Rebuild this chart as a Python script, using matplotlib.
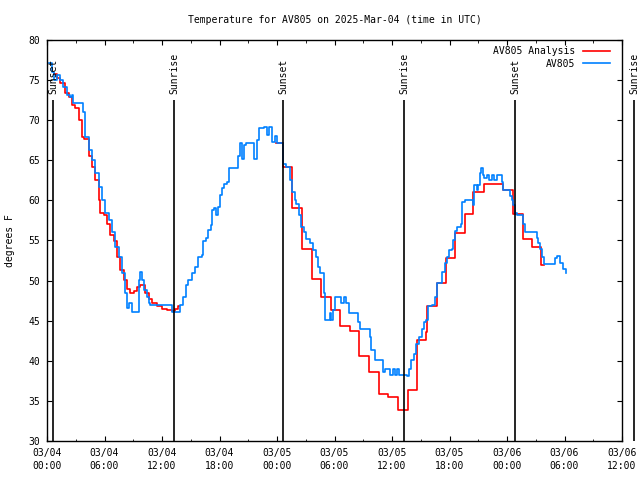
import numpy as np
import matplotlib
matplotlib.use('Agg')
import matplotlib.pyplot as plt
import matplotlib.dates as mdates

plt.rcParams['font.family'] = ['DejaVu Sans Mono']
plt.rcParams['font.size'] = 7

start = np.datetime64('2025-03-04T00:00')

# AV805 observations: hours after start, degrees F
obs_hours = [0.18, 0.5, 0.7, 1.04, 1.35, 1.7, 2.05, 2.45, 2.6, 2.75, 3.44, 3.76, 4.0, 4.35, 4.70,
             5.04, 5.39, 5.74, 6.08, 6.44, 6.78, 7.13, 7.48, 7.83, 8.17, 8.35, 8.53, 8.87, 9.39,
             9.57, 9.67, 9.91, 10.15, 10.43, 10.67, 10.78, 12.87, 13.04, 13.39, 13.70, 13.88,
             14.23, 14.47, 14.75, 15.10, 15.44, 15.79, 16.14, 16.31, 16.56, 16.84, 17.08, 17.25,
             17.46, 17.63, 17.88, 18.05, 18.23, 18.47, 18.75, 19.03, 19.62, 19.90, 20.14, 20.32,
             20.56, 20.77, 21.36, 21.63, 21.94, 22.12, 22.64, 22.92, 23.17, 23.45, 23.79, 23.97,
             24.03, 24.49, 24.66, 24.97, 25.32, 25.57, 25.85, 26.02, 26.27, 26.54, 26.82, 27.06,
             27.41, 27.76, 28.04, 28.28, 28.46, 28.73, 28.87, 28.98, 29.25, 29.50, 29.67, 29.84,
             30.02, 30.37, 30.71, 30.99, 31.24, 31.51, 32.11, 32.45, 32.63, 33.32, 33.67, 33.84,
             34.19, 34.71, 35.06, 35.24, 35.58, 35.82, 36.10, 36.35, 36.55, 36.70, 37.60, 37.77,
             38.02, 38.30, 38.50, 38.85, 39.10, 39.34, 39.55, 39.79, 40.14, 40.49, 40.73, 41.19,
             41.53, 41.71, 41.98, 42.24, 42.40, 42.58, 42.76, 43.03, 43.18, 43.35, 43.63, 44.24,
             44.42, 44.56, 44.83, 45.01, 45.18, 45.29, 45.46, 45.63, 45.94, 46.15, 46.40, 46.64,
             46.92, 47.27, 47.45, 47.62, 48.14, 48.31, 48.49, 48.66, 48.83, 49.01, 49.53, 49.70,
             49.88, 50.92, 51.10, 51.27, 51.44, 51.62, 51.86, 52.66, 53.01, 53.25, 53.53, 53.88,
             54.12]
obs_temp = [77.1, 76.0, 75.0, 75.6, 75.0, 74.1, 73.1, 72.9, 73.1, 72.1, 72.1, 71.0, 67.9, 66.3, 65.0,
            63.4, 61.7, 60.0, 58.4, 57.6, 56.1, 54.2, 53.0, 50.9, 48.4, 46.6, 47.2, 46.1, 46.1,
            50.1, 51.1, 50.1, 48.8, 48.0, 47.2, 47.0, 47.0, 46.1, 46.1, 46.1, 47.0,
            48.0, 49.5, 50.1, 50.9, 51.7, 53.0, 53.2, 54.9, 55.3, 56.3, 56.9, 58.8,
            59.0, 58.2, 59.2, 60.7, 61.6, 62.1, 62.3, 64.0, 64.1, 65.5, 67.1, 65.2,
            66.9, 67.1, 67.1, 65.2, 67.5, 69.0, 69.1, 68.2, 69.1, 67.3, 68.0, 67.9,
            67.1, 67.1, 64.6, 64.2, 62.5, 61.1, 60.0, 59.6, 58.2, 56.7, 56.1, 55.2,
            54.7, 53.8, 53.0, 51.7, 51.0, 51.0, 48.4, 45.1, 45.1, 45.9, 45.1, 46.3,
            48.0, 48.0, 47.2, 48.0, 47.2, 46.0, 46.0, 44.9, 44.0, 44.0, 43.0, 41.3,
            40.1, 40.1, 38.6, 39.0, 39.0, 38.2, 39.0, 38.2, 39.0, 38.2, 38.1, 39.0,
            40.1, 40.9, 42.1, 43.0, 44.0, 44.9, 45.1, 46.8, 47.0, 48.0, 49.7, 51.1,
            52.2, 53.0, 53.8, 54.0, 55.1, 56.2, 56.7, 56.7, 57.1, 59.8, 60.0, 60.0,
            59.4, 61.9, 61.3, 61.9, 63.4, 64.1, 63.2, 62.8, 63.2, 62.5, 63.2, 62.5,
            63.2, 63.2, 62.3, 61.3, 61.3, 60.5, 60.0, 59.4, 58.4, 58.2, 58.2, 57.1,
            56.1, 56.1, 55.3, 54.7, 54.0, 53.0, 52.1, 52.1, 52.8, 53.1, 52.2, 51.5,
            51.0]

# AV805 analysis (gap with no analysis in the afternoon of 03/04)
ana_hours = [0.70, 1.04, 1.39, 1.91, 2.26, 2.61, 2.96, 3.30, 3.65, 3.90, 4.35, 4.70, 5.04, 5.39,
             5.56, 5.91, 6.26, 6.61, 6.96, 7.30, 7.65, 8.00, 8.35, 8.63, 9.05, 9.39, 9.74, 10.02,
             10.26, 10.61, 10.96, 11.48, 12.00, 12.52, 13.04, 13.39, 13.70, 13.80,
             23.90, 24.63, 25.57, 26.61, 27.65, 28.63, 29.67, 30.61, 31.58, 32.59, 33.63, 34.61,
             35.58, 36.63, 37.62, 38.65, 39.55, 39.62, 40.66, 41.63, 42.57, 43.62, 43.66, 44.49,
             45.55, 47.55, 48.62, 49.65, 50.65, 51.58, 51.86]
ana_temp = [75.8, 75.2, 74.6, 73.4, 72.9, 71.9, 71.5, 70.0, 67.9, 67.6, 65.5, 64.2, 62.5, 60.0,
            58.4, 58.2, 57.1, 55.7, 54.9, 53.0, 51.3, 50.1, 49.0, 48.5, 48.7, 49.2, 49.5, 49.5,
            48.4, 47.7, 47.2, 46.8, 46.5, 46.3, 46.2, 46.5, 46.8, np.nan,
            67.1, 64.2, 59.0, 54.0, 50.2, 47.9, 46.3, 44.3, 43.7, 40.6, 38.6, 35.8,
            35.5, 33.9, 36.4, 42.6, 43.6, 46.8, 49.7, 52.8, 55.9, 57.1, 58.3, 61.0,
            62.1, 61.3, 58.3, 55.2, 54.2, 52.0, 52.0]

# sunset / sunrise markers
sun_hours = [0.63, 13.25, 24.63, 37.25, 48.83, 61.25]
sun_labels = ['Sunset', 'Sunrise', 'Sunset', 'Sunrise', 'Sunset', 'Sunrise']


def to_time(hours):
    return start + (np.array(hours) * 3600).astype('timedelta64[s]')


fig = plt.figure(figsize=(6.4, 4.8), dpi=100)
ax = fig.add_axes([47 / 640, 1 - 441 / 480, 575 / 640, 401 / 480])

ax.plot(to_time(ana_hours), ana_temp, color='#ff0000', lw=1.2, drawstyle='steps-post',
        label='AV805 Analysis')
ax.plot(to_time(obs_hours), obs_temp, color='#0080ff', lw=1.2, drawstyle='steps-post',
        label='AV805')

for t, lab in zip(to_time(sun_hours), sun_labels):
    ax.vlines(t, 30, 72.5, color='black', lw=1.2, clip_on=False)
    ax.text(t, 73.3, lab, rotation=90, ha='center', va='bottom', clip_on=False)

ax.set_ylim(30, 80)
ax.set_xlim(to_time([0])[0], to_time([60])[0])
ax.set_yticks(np.arange(30, 81, 5))
ax.xaxis.set_major_locator(mdates.HourLocator(byhour=[0, 6, 12, 18]))
ax.xaxis.set_minor_locator(mdates.HourLocator(byhour=[3, 9, 15, 21]))
ax.xaxis.set_major_formatter(mdates.DateFormatter('%m/%d\n%H:%M'))
ax.tick_params(which='both', direction='in', top=True, right=True, colors='black')
ax.tick_params(which='major', length=3.5, pad=5)
ax.tick_params(which='minor', length=1.8)
for s in ax.spines.values():
    s.set_linewidth(1.0)

ax.set_title('Temperature for AV805 on 2025-Mar-04 (time in UTC)', fontsize=7, pad=12)
ax.set_ylabel('degrees F')
ax.yaxis.set_label_coords(-0.056, 0.5)

ax.legend(loc='upper right', bbox_to_anchor=(1 - 10 / 575, 1 - 4 / 401), borderaxespad=0,
          frameon=False, markerfirst=False, handlelength=2.8, handletextpad=0.8,
          labelspacing=0.3, borderpad=0.2)

fig.canvas.draw()
for lbl in ax.get_xticklabels():
    lbl.set_linespacing(1.35)

plt.savefig('out.png', dpi=100)
